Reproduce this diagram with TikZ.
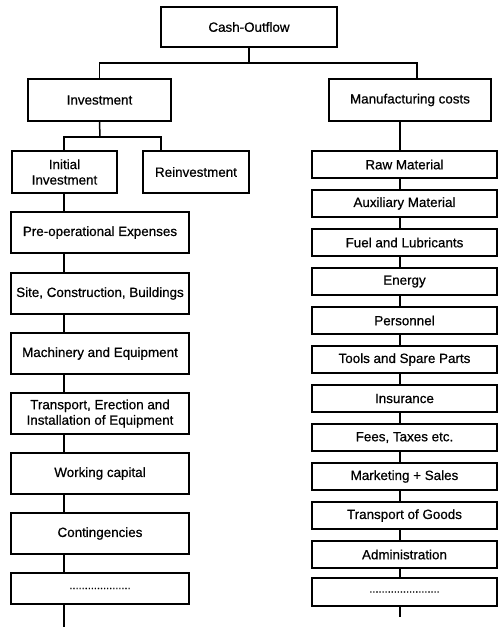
\documentclass[tikz,border=0pt]{standalone}
\usepackage{fontspec}
\setmainfont{Liberation Sans}
\newfontfamily\diagfont{Liberation Sans}[FakeBold=0.6]
\begin{document}
\begin{tikzpicture}[x=1pt,y=-1pt,
  box/.style={draw, line width=1.5pt, inner sep=0pt, align=center,
    font=\diagfont\fontsize{13.4}{15.5}\selectfont},
  lbox/.style={box, minimum width=178pt, minimum height=41pt},
  rbox/.style={box, minimum width=185pt, minimum height=27pt},
  conn/.style={line width=1.5pt}]
\useasboundingbox (0,0) rectangle (500,627);
% top
\node[box, minimum width=176pt, minimum height=40pt] (cash) at (249,27) {Cash-Outflow};
\node[box, minimum width=143pt, minimum height=42pt] (inv) at (99.5,100) {Investment};
\node[box, minimum width=162pt, minimum height=42pt] (man) at (410,100) {Manufacturing costs};
\node[box, minimum width=105pt, minimum height=42pt] (init) at (64.5,172) {Initial\\Investment};
\node[box, minimum width=106pt, minimum height=42pt] (reinv) at (196,172) {Reinvestment};
% left column
\node[lbox] (pre) at (100,232.5) {Pre-operational Expenses};
\node[lbox] (site) at (100,293.5) {Site, Construction, Buildings};
\node[lbox] (mach) at (100,353.5) {Machinery and Equipment};
\node[lbox] (trans) at (100,413.5) {Transport, Erection and\\Installation of Equipment};
\node[lbox] (work) at (100,473.5) {Working capital};
\node[lbox] (cont) at (100,533.5) {Contingencies};
\node[lbox, minimum height=31pt] (ldots) at (100,588.5) {\fontsize{11}{13}\selectfont....................};
% right column
\node[rbox] (raw) at (404.5,164.5) {Raw Material};
\node[rbox] (aux) at (404.5,203.5) {Auxiliary Material};
\node[rbox] (fuel) at (404.5,242.5) {Fuel and Lubricants};
\node[rbox] (ener) at (404.5,281.5) {Energy};
\node[rbox] (pers) at (404.5,320.5) {Personnel};
\node[rbox] (tool) at (404.5,359.5) {Tools and Spare Parts};
\node[rbox] (insu) at (404.5,398.5) {Insurance};
\node[rbox] (fees) at (404.5,437.5) {Fees, Taxes etc.};
\node[rbox] (mark) at (404.5,476.5) {Marketing + Sales};
\node[rbox] (tgoo) at (404.5,515.5) {Transport of Goods};
\node[rbox] (admi) at (404.5,554.5) {Administration};
\node[rbox, minimum height=28pt] (rdots) at (404.5,592) {\fontsize{11}{13}\selectfont.......................};
% helper coordinates
\coordinate (j1) at (249,63);
\coordinate (mx) at (417,0);
\coordinate (j2) at (100,137);
\coordinate (rx2) at (161,0);
\coordinate (lx) at (64,0);
\coordinate (rx) at (400,0);
\coordinate (lend) at (64,627);
\coordinate (rend) at (400,617);
% connectors
\draw[conn] (cash.south) -- (j1);
\draw[conn] (inv.north) |- (j1) -| (man.north -| mx);
\draw[conn] (inv.south) -- (j2);
\draw[conn] (init.north -| lx) |- (j2) -| (reinv.north -| rx2);
\foreach \a/\b in {init/pre, pre/site, site/mach, mach/trans, trans/work, work/cont, cont/ldots}
  \draw[conn] (\a.south -| lx) -- (\b.north -| lx);
\draw[conn] (ldots.south -| lx) -- (lend);
\foreach \a/\b in {man/raw, raw/aux, aux/fuel, fuel/ener, ener/pers, pers/tool, tool/insu, insu/fees, fees/mark, mark/tgoo, tgoo/admi, admi/rdots}
  \draw[conn] (\a.south -| rx) -- (\b.north -| rx);
\draw[conn] (rdots.south -| rx) -- (rend);
\end{tikzpicture}
\end{document}
